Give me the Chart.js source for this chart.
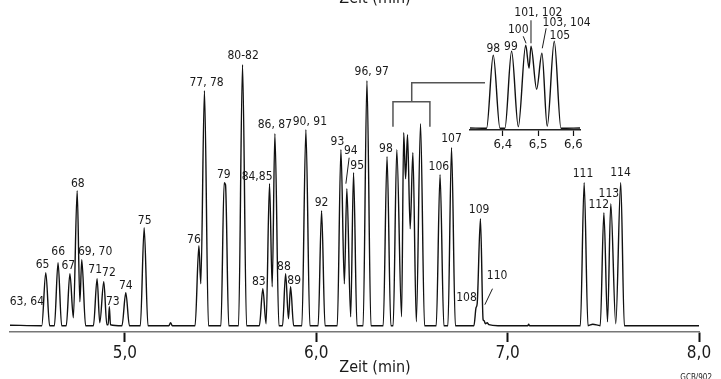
<!DOCTYPE html>
<html>
<head>
<meta charset="utf-8">
<script src="https://cdn.jsdelivr.net/npm/chart.js@4/dist/chart.umd.min.js"></script>
<style>
  body { margin: 0; background: #fff; }
  #wrap { position: relative; width: 721px; height: 379px; }
  #mainChart { position: absolute; left: 0; top: 0; }
  #insetChart { position: absolute; left: 440px; top: 0; }
</style>
</head>
<body>
<div id="wrap">
  <canvas id="mainChart" width="721" height="379"></canvas>
  <canvas id="insetChart" width="170" height="160"></canvas>
</div>
<script>
// Chromatogram trace (Zeit in min, Signal in relativen Einheiten)
const mainTime = [4.400, 4.566, 4.587, 4.607, 4.632, 4.651, 4.670, 4.694, 4.713, 4.731, 4.751, 4.765, 4.775, 4.795,
  4.836, 4.855, 4.869, 4.890, 4.906, 4.913, 4.919, 4.925, 4.985, 5.005, 5.024, 5.081, 5.101, 5.121,
  5.230, 5.239, 5.248, 5.367, 5.387, 5.397, 5.416, 5.437, 5.502, 5.519, 5.526, 5.543, 5.594, 5.615, 5.636,
  5.703, 5.721, 5.738, 5.756, 5.770, 5.784, 5.805, 5.824, 5.840, 5.855, 5.866, 5.882, 5.925, 5.946, 5.967,
  6.010, 6.028, 6.046, 6.110, 6.129, 6.147, 6.160, 6.180, 6.195, 6.213, 6.245, 6.265, 6.286,
  6.350, 6.370, 6.390, 6.402, 6.421, 6.446, 6.457, 6.467, 6.477, 6.491, 6.505, 6.523, 6.545, 6.566,
  6.627, 6.647, 6.667, 6.688, 6.707, 6.727, 6.824, 6.835, 6.841, 6.858, 6.872, 6.877, 6.884, 6.893, 6.902, 6.950,
  7.105, 7.110, 7.115, 7.380, 7.400, 7.420, 7.445, 7.484, 7.503, 7.522, 7.539, 7.565, 7.591, 7.610, 8.000];
const mainSignal = [0.5, 0, 53, 0, 0, 63, 0, 0, 52, 8, 135, 24, 66, 0,
  0, 47, 3, 44, 1, 1, 19, 1, 0, 33, 0, 0, 98, 0,
  0, 3, 0, 0, 80, 42, 235, 0, 0, 143, 141, 0, 0, 261, 0,
  0, 37, 2, 142, 39, 192, 0, 0, 52, 7, 39, 0, 0, 196, 0,
  0, 115, 0, 0, 176, 42, 137, 9, 153, 0, 0, 245, 0,
  0, 169, 0, 0, 176, 9, 193, 147, 191, 97, 173, 4, 202, 0,
  0, 151, 0, 0, 178, 0, 0, 18, 22, 107, 6, 5, 2, 3, 1, 0,
  0, 1.5, 0, 0, 143, 0, 1.5, 0, 113, 4, 122, 2, 143, 0, 0];

// Ausschnitt 6,3 - 6,6 min
const insetTime = [6.307, 6.354, 6.373, 6.392, 6.406, 6.425, 6.444, 6.465, 6.4745, 6.480, 6.496, 6.511, 6.526, 6.546, 6.565, 6.619];
const insetSignal = [0.3, 0, 73, 0, 0, 77, 1.5, 83, 60, 82, 39, 75, 2, 87, 0, 0.3];

const mainTicks = [5, 6, 7, 8];
const insetTicks = [6.4, 6.5, 6.6];

// Peak-Beschriftungen
const peakLabels = ['63, 64', '65', '66', '67', '68', '69, 70', '71', '72', '73', '74', '75', '76', '77, 78', '79',
  '80-82', '83', '84,85', '86, 87', '88', '89', '90, 91', '92', '93', '94', '95', '96, 97', '98', '106', '107',
  '108', '109', '110', '111', '112', '113', '114'];
const labelTime = [4.488, 4.570, 4.652, 4.705, 4.754, 4.845, 4.845, 4.917, 4.937, 5.005, 5.104, 5.361, 5.427, 5.517,
  5.618, 5.700, 5.691, 5.784, 5.831, 5.885, 5.967, 6.028, 6.111, 6.181, 6.214, 6.290, 6.364, 6.641, 6.707,
  6.785, 6.851, 6.945, 7.394, 7.476, 7.529, 7.590];
const labelSignal = [24, 61, 74, 60, 142, 74, 56, 53, 24, 40, 105, 86, 243, 151,
  270, 44, 149, 201, 59, 45, 204, 123, 184, 175, 160, 254, 177, 159, 187,
  28, 116, 50, 152, 121, 132, 153];

const insetLabels = ['98', '99', '100', '101, 102', '103, 104', '105'];
const insetLabelTime = [6.373, 6.423, 6.444, 6.501, 6.581, 6.562];
const insetLabelSignal = [79, 81, 98, 115, 105, 92];

const FONT = "'Liberation Sans Narrow', 'DejaVu Sans Condensed', 'Liberation Sans', sans-serif";

function toPoints(xs, ys) {
  return xs.map((x, i) => ({ x: x, y: ys[i] }));
}

function fmt(v) {
  return v.toFixed(1).replace('.', ',');
}

function line(ctx, x1, y1, x2, y2) {
  ctx.beginPath();
  ctx.moveTo(x1, y1);
  ctx.lineTo(x2, y2);
  ctx.stroke();
}

function labelPlugin(id, texts, times, signals, leaders, extra) {
  return {
    id: id,
    afterDatasetsDraw(chart) {
      const { ctx, scales: { x, y } } = chart;
      ctx.save();
      ctx.fillStyle = '#1a1a1a';
      ctx.font = '12px ' + FONT;
      ctx.textAlign = 'center';
      ctx.textBaseline = 'middle';
      texts.forEach((t, i) => {
        ctx.fillText(t, x.getPixelForValue(times[i]), y.getPixelForValue(signals[i]));
      });
      ctx.strokeStyle = '#1a1a1a';
      ctx.lineWidth = 1;
      leaders.forEach(l => {
        line(ctx, x.getPixelForValue(l[0]), y.getPixelForValue(l[1]), x.getPixelForValue(l[2]), y.getPixelForValue(l[3]));
      });
      if (extra) extra(chart, ctx, x, y);
      ctx.restore();
    }
  };
}

// Klammer zum Ausschnitt und Achsentitel
function mainExtras(chart, ctx, x, y) {
  ctx.strokeStyle = '#555';
  ctx.lineWidth = 1.5;
  const l = x.getPixelForValue(6.401), r = x.getPixelForValue(6.594), m = x.getPixelForValue(6.499);
  const top = y.getPixelForValue(224), foot = y.getPixelForValue(199), stem = y.getPixelForValue(243);
  ctx.beginPath();
  ctx.moveTo(l, foot); ctx.lineTo(l, top); ctx.lineTo(r, top); ctx.lineTo(r, foot);
  ctx.moveTo(m, top); ctx.lineTo(m, stem); ctx.lineTo(x.getPixelForValue(6.882), stem);
  ctx.stroke();

  ctx.fillStyle = '#1a1a1a';
  ctx.textAlign = 'center';
  ctx.font = '16px ' + FONT;
  ctx.textBaseline = 'middle';
  ctx.fillText('Zeit (min)', 375, 368);
  ctx.textBaseline = 'alphabetic';
  ctx.fillText('Zeit (min)', 375, 3);
  ctx.font = '8px ' + FONT;
  ctx.textAlign = 'right';
  ctx.fillText('GCB/902', 712, 380);
}

new Chart(document.getElementById('mainChart'), {
  type: 'line',
  data: {
    datasets: [{
      data: toPoints(mainTime, mainSignal),
      borderColor: '#111',
      borderWidth: 1.4,
      pointRadius: 0,
      cubicInterpolationMode: 'monotone',
      fill: false
    }]
  },
  options: {
    responsive: false,
    animation: false,
    events: [],
    layout: { padding: { left: 10, right: 22, top: 10, bottom: 0 } },
    plugins: { legend: { display: false }, tooltip: { enabled: false } },
    scales: {
      x: {
        type: 'linear',
        min: 4.4,
        max: 8.0,
        afterBuildTicks: s => { s.ticks = mainTicks.map(v => ({ value: v })); },
        afterFit: s => { s.height = 47; },
        ticks: { callback: v => fmt(v), color: '#1a1a1a', font: { family: FONT, size: 17 }, padding: 1, maxRotation: 0, autoSkip: false },
        grid: { drawOnChartArea: false, tickLength: 10, tickWidth: 2, tickColor: '#111' },
        border: { color: '#777', width: 1.5 }
      },
      y: { display: false, min: -6.3, max: 315.7 }
    }
  },
  plugins: [labelPlugin('mainLabels', peakLabels, labelTime, labelSignal,
    [[6.172, 168, 6.155, 142], [6.921, 37, 6.881, 21]], mainExtras)]
});

new Chart(document.getElementById('insetChart'), {
  type: 'line',
  data: {
    datasets: [{
      data: toPoints(insetTime, insetSignal),
      borderColor: '#111',
      borderWidth: 1.4,
      pointRadius: 0,
      cubicInterpolationMode: 'monotone',
      fill: false
    }]
  },
  options: {
    responsive: false,
    animation: false,
    events: [],
    layout: { padding: { left: 30, right: 30, top: 35, bottom: 0 } },
    plugins: { legend: { display: false }, tooltip: { enabled: false } },
    scales: {
      x: {
        type: 'linear',
        min: 6.307,
        max: 6.619,
        afterBuildTicks: s => { s.ticks = insetTicks.map(v => ({ value: v })); },
        afterFit: s => { s.height = 30; },
        ticks: { callback: v => fmt(v), color: '#1a1a1a', font: { family: FONT, size: 13 }, padding: 1, maxRotation: 0, autoSkip: false },
        grid: { drawOnChartArea: false, tickLength: 6, tickWidth: 1.2, tickColor: '#111' },
        border: { color: '#222', width: 1.5 }
      },
      y: { display: false, min: -1.7, max: 93.3 }
    }
  },
  plugins: [labelPlugin('insetLabels', insetLabels, insetLabelTime, insetLabelSignal,
    [[6.458, 92, 6.466, 85], [6.480, 108, 6.480, 85], [6.523, 100, 6.512, 80]], null)]
});
</script>
</body>
</html>
